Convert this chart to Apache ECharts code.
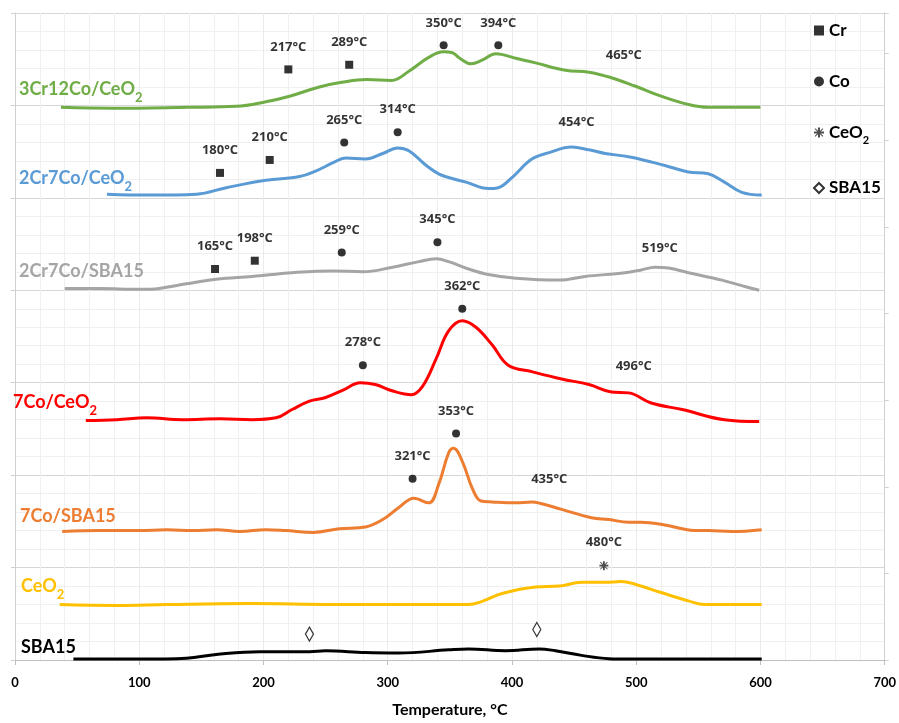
<!DOCTYPE html>
<html lang="en">
<head>
    <meta charset="utf-8">
    <title>TPR profiles</title>
    <script src="https://cdn.jsdelivr.net/npm/echarts@6/dist/echarts.min.js"></script>
    <style>
        html, body {margin: 0; padding: 0; background: #fff;}
        #main {width: 899px; height: 723px;}
    </style>
</head>
<body>
<div id="main"></div>
<script type="text/javascript">
    // profiles: [temperature °C, offset signal]
    var cr12CoCeO2 = [[37,598],[79,597],[140,598],[178,599],[202,604],[221,610],[245,620],[263,625],[283,628],[303,627],[317,637],[333,652],[345,658],[352,657],[358,651],[367,645],[376,649],[387,656],[403,651],[419,646],[443,638],[462,636],[480,630],[499,621],[520,610],[542,601],[558,598],[600,598]];
    var cr7CoCeO2 = [[74,504],[108,503],[146,504],[170,511],[202,519],[229,523],[242,529],[256,538],[266,543],[282,542],[296,548],[308,554],[317,551],[331,535],[341,526],[349,522],[363,517],[381,510],[389,511],[400,522],[416,542],[430,549],[448,555],[462,552],[475,548],[496,544],[523,535],[542,528],[558,526],[571,517],[585,506],[601,503]];
    var cr7CoSBA15 = [[40,402],[68,402],[100,401],[116,402],[138,407],[162,412],[191,415],[223,419],[256,421],[280,420],[304,425],[325,431],[339,434],[349,431],[365,423],[381,417],[403,413],[438,411],[459,415],[491,419],[504,422],[515,425],[526,424],[542,419],[569,411],[585,405],[599,400]];
    var co7CeO2 = [[57,259],[82,260],[106,262],[135,260],[165,261],[191,260],[210,262],[223,271],[237,280],[250,284],[264,292],[278,300],[290,298],[304,291],[319,287],[328,296],[339,326],[349,356],[360,367],[371,360],[384,341],[397,319],[416,312],[440,304],[462,298],[480,290],[494,289],[512,278],[537,271],[571,260],[599,258]];
    var co7SBA15 = [[38,139],[68,140],[100,140],[122,141],[143,140],[162,141],[181,139],[202,141],[218,140],[240,138],[261,142],[282,144],[296,152],[309,165],[321,175],[333,170],[341,190],[349,224],[353,229],[360,215],[368,186],[375,172],[384,171],[403,170],[416,171],[424,169],[440,163],[464,154],[478,152],[494,149],[504,149],[523,146],[537,142],[547,140],[558,140],[577,139],[601,141]];
    var ceo2 = [[36,60],[82,59],[122,60],[189,61],[256,60],[349,60],[365,60],[376,63.5],[392,72],[419,79],[438,80],[456,84],[475,84],[488,85],[499,82],[520,73],[542,64],[555,60],[571,60],[601,60]];
    var sba15 = [[47,1],[100,1],[138,2],[162,6],[197,9],[237,9],[250,10],[282,8],[309,7.5],[349,11],[365,12],[395,10],[422,12],[435,10],[456,5],[478,1.4],[494,1],[601,1]];

    // peak markers: [temperature, signal, label]
    var crPeaks = [[220,639,'217°C'],[269,644,'289°C'],[165,527,'180°C'],[205,541,'210°C'],[161,423,'165°C'],[193,432,'198°C']];
    var coPeaks = [[345,665,'350°C'],[389,665,'394°C'],[265,560,'265°C'],[308,571,'314°C'],[263,441,'259°C'],[340,452,'345°C'],[280,319,'278°C'],[360,380,'362°C'],[320,196,'321°C'],[355,245,'353°C']];
    var ceo2Peaks = [[474,102,'480°C']];
    var sbaPeaks = [[237,28],[420,33]];
    var plainPeaks = [[490,654,'465°C'],[452,582,'454°C'],[519,445,'519°C'],[498,318,'496°C'],[430,195,'435°C']];

    var FONT = 'Lato';
    var asterisk = 'path://M4,0h2v10h-2z M0,4h10v2h-10z M0.7,1.4L1.4,0.7L9.3,8.6L8.6,9.3Z M8.6,0.7L9.3,1.4L1.4,9.3L0.7,8.6Z';

    var profiles = [
        {data: cr12CoCeO2, color: '#70AD47', name: '3Cr12Co/CeO', sub: '2', left: 19, mid: 90},
        {data: cr7CoCeO2, color: '#5B9BD5', name: '2Cr7Co/CeO', sub: '2', left: 19, mid: 179},
        {data: cr7CoSBA15, color: '#A5A5A5', name: '2Cr7Co/SBA15', sub: '', left: 19, mid: 272},
        {data: co7CeO2, color: '#FF0000', name: '7Co/CeO', sub: '2', left: 13, mid: 403},
        {data: co7SBA15, color: '#ED7D31', name: '7Co/SBA15', sub: '', left: 20, mid: 517},
        {data: ceo2, color: '#FFC000', name: 'CeO', sub: '2', left: 21, mid: 587},
        {data: sba15, color: '#000000', name: 'SBA15', sub: '', left: 21, mid: 648}
    ];

    var peakLabel = {
        show: true,
        position: 'top',
        distance: 12,
        formatter: function (p) { return p.data[2]; },
        color: '#000',
        fontFamily: 'Open Sans',
        fontWeight: 'bold',
        fontSize: 13
    };

    var series = profiles.map(function (p) {
        return {
            type: 'line',
            data: p.data,
            smooth: 0.4,
            showSymbol: false,
            clip: false,
            lineStyle: {color: p.color, width: 3},
            z: 3
        };
    });

    series.push({
        name: 'Cr', type: 'scatter', data: crPeaks, symbol: 'rect', symbolSize: 8,
        itemStyle: {color: '#000'}, label: peakLabel, z: 5
    });
    series.push({
        name: 'Co', type: 'scatter', data: coPeaks, symbol: 'circle', symbolSize: 8,
        itemStyle: {color: '#000'}, label: peakLabel, z: 5
    });
    series.push({
        name: 'CeO2', type: 'scatter', data: ceo2Peaks, symbol: asterisk, symbolSize: 9,
        itemStyle: {color: '#222'}, label: peakLabel, z: 5
    });
    series.push({
        name: 'SBA15', type: 'scatter', data: sbaPeaks, symbol: 'diamond', symbolSize: [8, 14],
        itemStyle: {color: '#fff', borderColor: '#000', borderWidth: 1.3}, z: 5
    });
    series.push({
        type: 'scatter', data: plainPeaks, symbolSize: 0.1,
        itemStyle: {color: 'transparent'},
        label: Object.assign({}, peakLabel, {position: 'inside'}), z: 5
    });

    var graphics = profiles.map(function (p) {
        return {
            type: 'text',
            left: p.left,
            top: p.mid - 10,
            z: 10,
            style: {
                text: '{m|' + p.name + '}' + (p.sub ? '{s|' + p.sub + '}' : ''),
                rich: {
                    m: {fontFamily: FONT, fontSize: 18, fontWeight: 'bold', lineHeight: 30, fill: p.color},
                    s: {fontFamily: FONT, fontSize: 13, fontWeight: 'bold', lineHeight: 13, verticalAlign: 'bottom', fill: p.color}
                }
            }
        };
    });

    var myChart = echarts.init(document.getElementById('main'));
    var option = {
        animation: false,
        backgroundColor: '#fff',
        grid: {left: 15, right: 12, top: 13, bottom: 60},
        legend: {
            orient: 'vertical',
            left: 808,
            top: 17,
            itemWidth: 10,
            itemHeight: 10,
            itemGap: 34,
            data: ['Cr', 'Co', 'CeO2', 'SBA15'],
            formatter: function (name) {
                return name === 'CeO2' ? '{n|CeO}{s|2}' : '{n|' + name + '}';
            },
            textStyle: {
                rich: {
                    n: {fontFamily: FONT, fontSize: 17, fontWeight: 'bold', color: '#000', lineHeight: 26},
                    s: {fontFamily: FONT, fontSize: 11, fontWeight: 'bold', color: '#000', lineHeight: 11, verticalAlign: 'bottom'}
                }
            }
        },
        xAxis: {
            type: 'value',
            min: 0,
            max: 700,
            interval: 100,
            name: 'Temperature, °C',
            nameLocation: 'middle',
            nameGap: 42,
            nameTextStyle: {fontFamily: FONT, fontSize: 16, fontWeight: 'bold', color: '#000'},
            axisLine: {lineStyle: {color: '#BFBFBF'}},
            axisTick: {show: true, length: 5, lineStyle: {color: '#BFBFBF'}},
            axisLabel: {fontFamily: FONT, fontSize: 13, fontWeight: 'bold', color: '#000', margin: 16},
            splitLine: {show: true, lineStyle: {color: '#EBEBEB'}},
            minorTick: {show: false, splitNumber: 5},
            minorSplitLine: {show: true, lineStyle: {color: '#F0F0F0'}}
        },
        yAxis: [
            {
                type: 'value',
                min: 0,
                max: 700,
                interval: 100,
                axisLine: {show: true, lineStyle: {color: '#D0D0D0'}},
                axisTick: {show: true, length: 4, lineStyle: {color: '#D0D0D0'}},
                axisLabel: {show: false},
                splitLine: {show: true, lineStyle: {color: '#D6D6D6'}},
                minorTick: {show: false, splitNumber: 5},
                minorSplitLine: {show: true, lineStyle: {color: '#F0F0F0'}}
            },
            {
                type: 'value',
                position: 'right',
                min: 0,
                max: 7.47,
                interval: 1,
                axisLine: {show: true, lineStyle: {color: '#D0D0D0'}},
                axisTick: {show: true, length: 4, lineStyle: {color: '#D0D0D0'}},
                axisLabel: {show: false},
                splitLine: {show: false}
            }
        ],
        graphic: graphics,
        series: series
    };
    myChart.setOption(option);
</script>
</body>
</html>
